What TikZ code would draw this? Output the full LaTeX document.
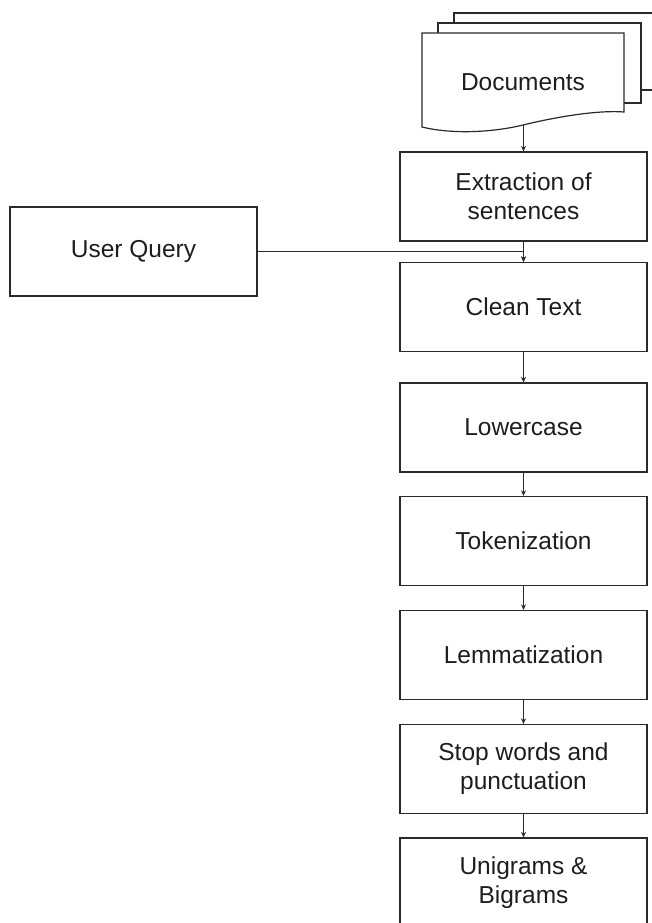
\documentclass[tikz,border=0pt]{standalone}
\usepackage{fontspec}
\setmainfont{Liberation Sans}
\usetikzlibrary{arrows.meta}
\definecolor{linec}{HTML}{2A2A2A}
\definecolor{textc}{HTML}{1E1E1E}
\begin{document}
\begin{tikzpicture}[x=1pt,y=-1pt,
  stepbox/.style={draw=linec, line width=1.2pt, fill=white, minimum width=247pt, minimum height=89pt,
    inner sep=0pt, align=center, text=textc, font=\fontsize{24.5}{29}\selectfont},
  conn/.style={draw=linec, line width=1.2pt, -{Stealth[length=5.5pt,width=5pt]}},
  pagec/.style={draw=linec, line width=1.2pt, fill=white}]
\useasboundingbox (0,0) rectangle (652,923);
\clip (0,0) rectangle (652,923);
\fill[white] (0,0) rectangle (652,923);
% document stack
\path[pagec] (655,13) -- (454,13) -- (454,90) -- (655,90);
\path[pagec] (438,23) rectangle (641,103);
\path[pagec] (422,33) -- (624,33) -- (624,112)
  .. controls (600,110) and (560,116) .. (523,125)
  .. controls (490,133) and (450,134) .. (422,127) -- cycle;
\node[text=textc, font=\fontsize{24.5}{29}\selectfont] (docs) at (523,82) {Documents};
\coordinate (docsb) at (523.5,125);
% boxes
\node[stepbox] (extr) at (523.5,196.5) {Extraction of\\sentences};
\node[stepbox] (uq) at (133.5,251.5) {User Query};
\node[stepbox] (clean) at (523.5,307) {Clean Text};
\node[stepbox] (lower) at (523.5,427.5) {Lowercase};
\node[stepbox] (token) at (523.5,541) {Tokenization};
\node[stepbox] (lemma) at (523.5,655) {Lemmatization};
\node[stepbox] (stop) at (523.5,769) {Stop words and\\punctuation};
\node[stepbox, minimum height=90pt] (ngram) at (523.5,883) {Unigrams \&\\Bigrams};
% connectors
\draw[conn] (docsb) -- (extr.north);
\draw[conn] (extr.south) -- (clean.north);
\draw[conn] (uq.east) -| (clean.north);
\draw[conn] (clean.south) -- (lower.north);
\draw[conn] (lower.south) -- (token.north);
\draw[conn] (token.south) -- (lemma.north);
\draw[conn] (lemma.south) -- (stop.north);
\draw[conn] (stop.south) -- (ngram.north);
\end{tikzpicture}
\end{document}
